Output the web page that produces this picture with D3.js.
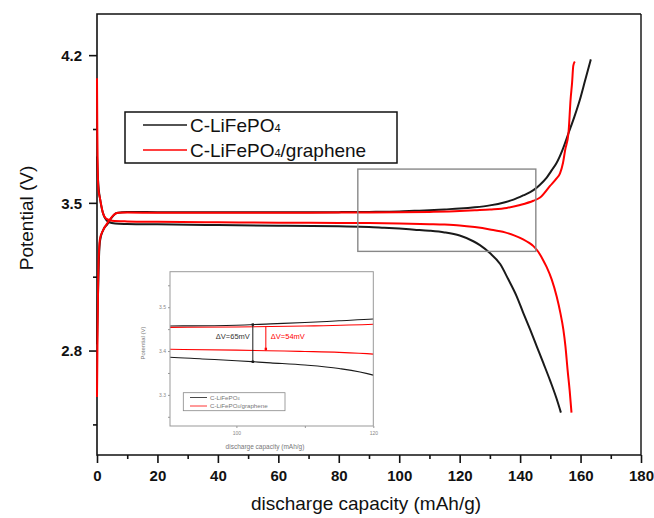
<!DOCTYPE html>
<html>
<head>
  <meta charset="utf-8">
  <title>Discharge curves</title>
  <style>
    body { margin: 0; background: #fff; }
    svg { display: block; font-family: Arial, "Liberation Sans", sans-serif; }
    .curve { fill: none; stroke-width: 2px; stroke-linejoin: round; }
    .inset-curve { fill: none; stroke-width: 1.1px; }
  </style>
</head>
<body>
  <svg width="654" height="518"></svg>

  <script src="https://d3js.org/d3.v7.min.js"></script>
  <script>
    // C-LiFePO4, charge branch (upper)
    var blackChargeCap = [0, 0.3, 0.6, 1, 2, 3.5, 4.6, 6.5, 10, 20, 40, 60, 80, 90, 100, 105, 110, 115, 120, 125, 130, 135, 137.8, 141, 144.4, 146.5, 148.8, 150.5, 152.1, 154, 156, 158, 159.8, 161.5, 163.4];
    var blackChargeV = [2.83, 3.05, 3.22, 3.32, 3.37, 3.40, 3.425, 3.452, 3.457, 3.456, 3.455, 3.455, 3.456, 3.457, 3.459, 3.462, 3.465, 3.469, 3.473, 3.479, 3.488, 3.503, 3.515, 3.535, 3.56, 3.585, 3.62, 3.655, 3.69, 3.75, 3.83, 3.91, 3.99, 4.08, 4.18];

    // C-LiFePO4, discharge branch (lower)
    var blackDischargeCap = [0, 0.3, 0.6, 1, 2, 3, 4, 6, 10, 20, 40, 60, 80, 90, 95, 100, 105, 110, 115, 120, 124.5, 126.7, 130, 133.4, 136, 138.9, 141, 143.3, 145.5, 147.7, 150, 152, 153.5];
    var blackDischargeV = [3.72, 3.62, 3.56, 3.52, 3.45, 3.42, 3.408, 3.402, 3.40, 3.398, 3.395, 3.392, 3.389, 3.386, 3.382, 3.378, 3.373, 3.368, 3.36, 3.345, 3.318, 3.30, 3.262, 3.21, 3.14, 3.056, 2.98, 2.90, 2.82, 2.74, 2.655, 2.575, 2.506];

    // C-LiFePO4/graphene, charge branch (upper)
    var redChargeCap = [0, 0.2, 0.4, 0.7, 1, 2, 3.5, 5, 7, 10, 20, 40, 60, 80, 90, 100, 110, 120, 125, 130, 135.6, 140, 144.4, 146.6, 149.9, 152, 153.2, 154.2, 154.9, 156, 156.7, 157.2, 157.6, 158.1];
    var redChargeV = [2.58, 2.9, 3.15, 3.28, 3.33, 3.37, 3.405, 3.435, 3.453, 3.454, 3.453, 3.453, 3.453, 3.454, 3.454, 3.455, 3.457, 3.461, 3.465, 3.469, 3.476, 3.49, 3.51, 3.525, 3.58, 3.615, 3.64, 3.69, 3.75, 3.83, 3.99, 4.07, 4.15, 4.17];

    // C-LiFePO4/graphene, discharge branch (lower)
    var redDischargeCap = [0, 0.1, 0.25, 0.5, 1, 2, 3, 5, 10, 20, 40, 60, 80, 90, 100, 107, 110, 115, 120, 125, 130, 135, 138, 141, 143, 144.4, 146, 147.5, 148.8, 150.5, 152.1, 153.3, 154.3, 155, 155.7, 156.4, 157];
    var redDischargeV = [4.09, 3.85, 3.65, 3.56, 3.52, 3.45, 3.425, 3.415, 3.412, 3.41, 3.408, 3.406, 3.405, 3.404, 3.402, 3.40, 3.399, 3.397, 3.393, 3.385, 3.374, 3.36, 3.346, 3.327, 3.31, 3.295, 3.268, 3.232, 3.195, 3.135, 3.056, 2.98, 2.90, 2.82, 2.71, 2.61, 2.506];

    var seriesNames = ['C-LiFePO', 'C-LiFePO'];
    var seriesSuffix = ['', '/graphene'];
    var seriesColors = ['#1a1a1a', '#ff0000'];

    var xTicks = [0, 20, 40, 60, 80, 100, 120, 140, 160, 180];
    var xMinorTicks = [10, 30, 50, 70, 90, 110, 130, 150, 170];
    var yTicks = [2.8, 3.5, 4.2];
    var yMinorTicks = [2.45, 3.15, 3.85];

    // zoomed region shown in the inset [x0, x1, v0, v1]
    var zoomBox = [86.3, 145.2, 3.27, 3.66];

    var insetXTicks = [100, 120];
    var insetXMinorTicks = [110];
    var insetYTicks = [3.3, 3.4, 3.5];
    var insetYMinorTicks = [3.25, 3.35, 3.45, 3.55];

    // delta V markers in the inset
    var deltaCap = [102.4, 104.3];
    var deltaLabels = ['\u0394V=65mV', '\u0394V=54mV'];

    var svg = d3.select('svg');

    var x = d3.scaleLinear().domain([0, 180]).range([97, 641]);
    var y = d3.scaleLinear().domain([2.305, 4.395]).range([455, 14]);

    function toPoints(caps, vs) {
      return caps.map(function(c, i) { return [c, vs[i]]; });
    }

    var curves = [
      { pts: toPoints(blackChargeCap, blackChargeV), s: 0 },
      { pts: toPoints(blackDischargeCap, blackDischargeV), s: 0 },
      { pts: toPoints(redChargeCap, redChargeV), s: 1 },
      { pts: toPoints(redDischargeCap, redDischargeV), s: 1 }
    ];

    // frame (right edge is greyer in the original)
    svg.append('line')
      .attr('x1', x(180)).attr('x2', x(180)).attr('y1', y(4.395)).attr('y2', y(2.305))
      .attr('stroke', '#555').attr('stroke-width', 2);
    svg.append('path')
      .attr('d', 'M' + x(180) + ',' + y(4.395) + 'H' + x(0) + 'V' + y(2.305) + 'H' + x(180))
      .attr('fill', 'none').attr('stroke', '#111').attr('stroke-width', 1.6);

    // x axis
    var xAxis = svg.append('g').attr('transform', 'translate(0,' + y(2.305) + ')');
    xAxis.append('g')
      .call(d3.axisBottom(x).tickValues(xTicks).tickSize(8).tickFormat(d3.format('d')))
      .call(function(g) {
        g.select('.domain').remove();
        g.selectAll('.tick line').attr('stroke', '#111').attr('stroke-width', 1.6);
        g.selectAll('.tick text').attr('dy', 0).attr('y', 26)
          .attr('font-size', 15).attr('font-weight', 'bold').attr('fill', '#111')
          .attr('font-family', 'Arial, "Liberation Sans", sans-serif');
      });
    xAxis.append('g')
      .call(d3.axisBottom(x).tickValues(xMinorTicks).tickSize(4).tickFormat(''))
      .call(function(g) {
        g.select('.domain').remove();
        g.selectAll('.tick line').attr('stroke', '#111').attr('stroke-width', 1.6);
      });

    // y axis
    var yAxis = svg.append('g').attr('transform', 'translate(' + x(0) + ',0)');
    yAxis.append('g')
      .call(d3.axisLeft(y).tickValues(yTicks).tickSize(8).tickFormat(d3.format('.1f')))
      .call(function(g) {
        g.select('.domain').remove();
        g.selectAll('.tick line').attr('stroke', '#111').attr('stroke-width', 1.6);
        g.selectAll('.tick text').attr('x', -15).attr('dy', '0.36em')
          .attr('font-size', 15).attr('font-weight', 'bold').attr('fill', '#111')
          .attr('font-family', 'Arial, "Liberation Sans", sans-serif');
      });
    yAxis.append('g')
      .call(d3.axisLeft(y).tickValues(yMinorTicks).tickSize(4).tickFormat(''))
      .call(function(g) {
        g.select('.domain').remove();
        g.selectAll('.tick line').attr('stroke', '#111').attr('stroke-width', 1.6);
      });

    // axis titles
    svg.append('text')
      .attr('x', 366).attr('y', 510)
      .attr('text-anchor', 'middle').attr('font-size', 19).attr('fill', '#111')
      .text('discharge capacity (mAh/g)');
    svg.append('text')
      .attr('transform', 'translate(33,218) rotate(-90)')
      .attr('text-anchor', 'middle').attr('font-size', 19).attr('fill', '#111')
      .text('Potential (V)');

    // main curves
    var line = d3.line()
      .x(function(d) { return x(d[0]); })
      .y(function(d) { return y(d[1]); })
      .curve(d3.curveMonotoneX);

    svg.append('g').selectAll('path')
      .data(curves)
      .join('path')
      .attr('class', 'curve')
      .attr('stroke', function(d) { return seriesColors[d.s]; })
      .attr('d', function(d) { return line(d.pts); });

    // zoom box
    svg.append('rect')
      .attr('x', x(zoomBox[0])).attr('y', y(zoomBox[3]))
      .attr('width', x(zoomBox[1]) - x(zoomBox[0]))
      .attr('height', y(zoomBox[2]) - y(zoomBox[3]))
      .attr('fill', 'none').attr('stroke', '#888').attr('stroke-width', 1.4);

    // legend
    var legend = svg.append('g');
    legend.append('rect')
      .attr('x', 125).attr('y', 112).attr('width', 272).attr('height', 51)
      .attr('fill', '#fff').attr('stroke', '#111').attr('stroke-width', 1.5);
    seriesNames.forEach(function(name, i) {
      var ly = 125 + i * 25;
      legend.append('line')
        .attr('x1', 143).attr('x2', 187).attr('y1', ly).attr('y2', ly)
        .attr('stroke', seriesColors[i]).attr('stroke-width', 1.6);
      var t = legend.append('text')
        .attr('x', 190).attr('y', ly + 7)
        .attr('font-size', 19).attr('fill', '#111');
      t.append('tspan').text(name);
      t.append('tspan').attr('font-size', 11).text('4');
      t.append('tspan').text(seriesSuffix[i]);
    });

    // ---- inset ----
    var xi = d3.scaleLinear().domain([90.3, 120]).range([170, 373.3]);
    var yi = d3.scaleLinear().domain([3.229, 3.581]).range([426, 271.7]);
    var inset = svg.append('g').attr('fill', '#777');

    svg.append('clipPath').attr('id', 'inset-clip')
      .append('rect')
      .attr('x', 170).attr('y', 271.7).attr('width', 203.3).attr('height', 154.3);

    inset.append('rect')
      .attr('x', 170).attr('y', 271.7).attr('width', 203.3).attr('height', 154.3)
      .attr('fill', '#fff');

    var lineInset = d3.line()
      .x(function(d) { return xi(d[0]); })
      .y(function(d) { return yi(d[1]); })
      .curve(d3.curveMonotoneX);

    inset.append('g').attr('clip-path', 'url(#inset-clip)')
      .selectAll('path')
      .data(curves)
      .join('path')
      .attr('class', 'inset-curve')
      .attr('stroke', function(d) { return seriesColors[d.s]; })
      .attr('d', function(d) { return lineInset(d.pts); });

    inset.append('rect')
      .attr('x', 170).attr('y', 271.7).attr('width', 203.3).attr('height', 154.3)
      .attr('fill', 'none').attr('stroke', '#999').attr('stroke-width', 1);

    var ix = inset.append('g').attr('transform', 'translate(0,426)');
    ix.append('g')
      .call(d3.axisBottom(xi).tickValues(insetXTicks).tickSize(2).tickFormat(d3.format('d')))
      .call(function(g) {
        g.select('.domain').remove();
        g.selectAll('.tick line').attr('stroke', '#999');
        g.selectAll('.tick text').attr('y', 5).attr('font-size', 5).attr('fill', '#888');
      });
    ix.append('g')
      .call(d3.axisBottom(xi).tickValues(insetXMinorTicks).tickSize(2).tickFormat(''))
      .call(function(g) {
        g.select('.domain').remove();
        g.selectAll('.tick line').attr('stroke', '#999');
      });

    var iy = inset.append('g').attr('transform', 'translate(170,0)');
    iy.append('g')
      .call(d3.axisLeft(yi).tickValues(insetYTicks).tickSize(2).tickFormat(d3.format('.1f')))
      .call(function(g) {
        g.select('.domain').remove();
        g.selectAll('.tick line').attr('stroke', '#999');
        g.selectAll('.tick text').attr('x', -4).attr('font-size', 5).attr('fill', '#888');
      });
    iy.append('g')
      .call(d3.axisLeft(yi).tickValues(insetYMinorTicks).tickSize(2).tickFormat(''))
      .call(function(g) {
        g.select('.domain').remove();
        g.selectAll('.tick line').attr('stroke', '#999');
      });

    inset.append('text')
      .attr('x', 265).attr('y', 449)
      .attr('text-anchor', 'middle').attr('font-size', 6.5).attr('fill', '#777')
      .text('discharge capacity (mAh/g)');
    inset.append('text')
      .attr('transform', 'translate(145,343) rotate(-90)')
      .attr('text-anchor', 'middle').attr('font-size', 6).attr('fill', '#777')
      .text('Potential (V)');

    // delta V markers
    function interp(caps, vs, c) {
      return d3.scaleLinear().domain(caps).range(vs)(c);
    }
    var deltaPairs = [
      [interp(blackChargeCap, blackChargeV, deltaCap[0]), interp(blackDischargeCap, blackDischargeV, deltaCap[0])],
      [interp(redChargeCap, redChargeV, deltaCap[1]), interp(redDischargeCap, redDischargeV, deltaCap[1])]
    ];
    deltaPairs.forEach(function(p, i) {
      var cx = xi(deltaCap[i]);
      inset.append('line')
        .attr('x1', cx).attr('x2', cx).attr('y1', yi(p[0])).attr('y2', yi(p[1]))
        .attr('stroke', seriesColors[i]).attr('stroke-width', 1);
      inset.append('rect')
        .attr('x', cx - 1.2).attr('y', yi(p[1]) - (i ? 3 : 1.2)).attr('width', 2.4).attr('height', 2.4)
        .attr('fill', seriesColors[i]);
      if (i === 0) {
        inset.append('rect')
          .attr('x', cx - 1.2).attr('y', yi(p[0]) - 1.2).attr('width', 2.4).attr('height', 2.4)
          .attr('fill', seriesColors[i]);
      }
      inset.append('text')
        .attr('x', i ? cx + 5 : cx - 3).attr('y', 339)
        .attr('text-anchor', i ? 'start' : 'end')
        .attr('font-size', 7.5).attr('fill', i ? '#ff0000' : '#333')
        .text(deltaLabels[i]);
    });

    // inset legend
    inset.append('rect')
      .attr('x', 183.3).attr('y', 392.7).attr('width', 101.7).attr('height', 18)
      .attr('fill', '#fff').attr('stroke', '#888').attr('stroke-width', 0.8);
    seriesNames.forEach(function(name, i) {
      var ly = 397.5 + i * 8.5;
      inset.append('line')
        .attr('x1', 190).attr('x2', 207).attr('y1', ly).attr('y2', ly)
        .attr('stroke', seriesColors[i]).attr('stroke-width', 0.8);
      var t = inset.append('text')
        .attr('x', 210).attr('y', ly + 2.2)
        .attr('font-size', 6.2).attr('fill', '#777');
      t.append('tspan').text(name);
      t.append('tspan').attr('font-size', 4).text('4');
      t.append('tspan').text(seriesSuffix[i]);
    });
  </script>
</body>
</html>
